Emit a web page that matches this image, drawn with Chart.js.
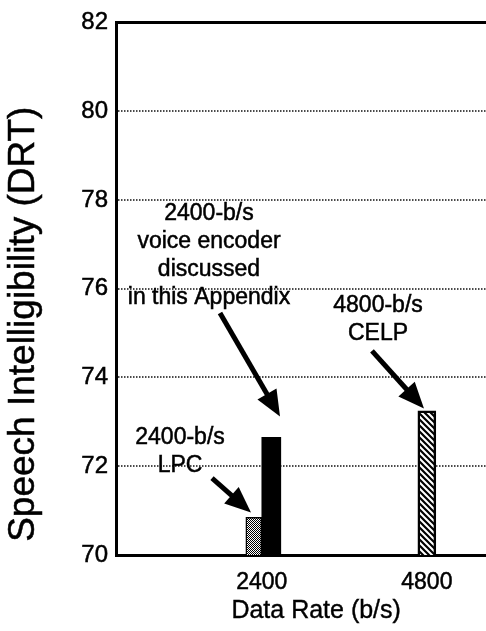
<!DOCTYPE html>
<html>
<head>
<meta charset="utf-8">
<script src="https://cdn.jsdelivr.net/npm/chart.js@4.4.1/dist/chart.umd.min.js"></script>
<style>
  html, body { margin: 0; padding: 0; background: #fff; }
  canvas { display: block; }
</style>
</head>
<body>
<canvas id="chart" width="486" height="631"></canvas>
<script>
// Coders compared, their data rate (b/s) and DRT intelligibility score
const coderNames = ['2400-b/s LPC', '2400-b/s voice encoder', '4800-b/s CELP'];
const coderRates = [2400, 2400, 4800];
const drtScores = [70.85, 72.65, 73.25];

// Axis ticks
const rateTicks = [2400, 4800];
const drtTicks = [70, 72, 74, 76, 78, 80, 82];

const FONT = '"Liberation Sans", Arial, Helvetica, sans-serif';
const X_MIN = 280, X_MAX = 5660;

// Fill patterns for the bars
function stipplePattern() {
  const c = document.createElement('canvas');
  c.width = 2; c.height = 2;
  const g = c.getContext('2d');
  g.fillStyle = '#fff'; g.fillRect(0, 0, 2, 2);
  g.fillStyle = '#000'; g.fillRect(0, 0, 1, 1); g.fillRect(1, 1, 1, 1);
  return g.createPattern(c, 'repeat');
}
function hatchPattern() {
  const s = 6;
  const c = document.createElement('canvas');
  c.width = s; c.height = s;
  const g = c.getContext('2d');
  g.fillStyle = '#fff'; g.fillRect(0, 0, s, s);
  g.strokeStyle = '#000'; g.lineWidth = 2.2;
  g.beginPath();
  g.moveTo(-1, -1); g.lineTo(s + 1, s + 1);
  g.moveTo(-1, s - 1); g.lineTo(1, s + 1);
  g.moveTo(s - 1, -1); g.lineTo(s + 1, 1);
  g.stroke();
  return g.createPattern(c, 'repeat');
}

const barStyles = [
  { backgroundColor: stipplePattern(), borderColor: '#000', borderWidth: 1.5, barThickness: 16 },
  { backgroundColor: '#000', borderColor: '#000', borderWidth: 0, barThickness: 19 },
  { backgroundColor: hatchPattern(), borderColor: '#000', borderWidth: 2.5, barThickness: 18 }
];

const datasets = coderNames.map((name, i) => Object.assign({
  label: name,
  data: [{ x: coderRates[i], y: drtScores[i] }],
  skipNull: true,
  borderSkipped: 'start'
}, barStyles[i]));

// Callout labels and arrows, placed in data units
const callouts = [
  { lines: ['2400-b/s', 'voice encoder', 'discussed', 'in this Appendix'],
    at: [1632, 77.69], from: [1792, 75.45], to: [2665, 73.12] },
  { lines: ['2400-b/s', 'LPC'],
    at: [1211, 72.65], from: [1676, 71.73], to: [2243, 70.96] },
  { lines: ['4800-b/s', 'CELP'],
    at: [4090, 75.61], from: [4002, 74.60], to: [4758, 73.30] }
];

function drawArrow(ctx, x0, y0, x1, y1) {
  const ang = Math.atan2(y1 - y0, x1 - x0);
  const cos = Math.cos(ang), sin = Math.sin(ang);
  const headLen = 26, headHalf = 11;
  const bx = x1 - headLen * cos, by = y1 - headLen * sin;
  ctx.lineWidth = 5;
  ctx.lineCap = 'butt';
  ctx.beginPath();
  ctx.moveTo(x0, y0);
  ctx.lineTo(bx + 2 * cos, by + 2 * sin);
  ctx.stroke();
  ctx.beginPath();
  ctx.moveTo(x1, y1);
  ctx.lineTo(bx + headHalf * sin, by - headHalf * cos);
  ctx.lineTo(bx - headHalf * sin, by + headHalf * cos);
  ctx.closePath();
  ctx.fill();
}

function heavyText(ctx, t, x, y) {
  ctx.fillText(t, x, y);
  ctx.strokeText(t, x, y);
}

const calloutPlugin = {
  id: 'callouts',
  afterDatasetsDraw(chart) {
    const { ctx, scales: { x, y } } = chart;
    ctx.save();
    ctx.fillStyle = '#000';
    ctx.strokeStyle = '#000';
    ctx.font = '23px ' + FONT;
    ctx.textAlign = 'center';
    ctx.textBaseline = 'middle';
    const lineH = 28;
    callouts.forEach(c => {
      const cx = x.getPixelForValue(c.at[0]);
      const cy = y.getPixelForValue(c.at[1]);
      ctx.lineWidth = 0.5;
      c.lines.forEach((t, i) => heavyText(ctx, t, cx, cy + i * lineH));
      drawArrow(ctx,
        x.getPixelForValue(c.from[0]), y.getPixelForValue(c.from[1]),
        x.getPixelForValue(c.to[0]), y.getPixelForValue(c.to[1]));
    });
    ctx.restore();
  }
};

// Axis titles; the plot runs on past the right edge, so the rate title
// sits right of the visible middle and the score title a little low
const axisTitlePlugin = {
  id: 'axisTitles',
  afterDraw(chart) {
    const { ctx, scales: { x, y } } = chart;
    ctx.save();
    ctx.fillStyle = '#000';
    ctx.strokeStyle = '#000';
    ctx.lineWidth = 0.4;
    ctx.textAlign = 'center';
    ctx.textBaseline = 'middle';

    ctx.font = '25px ' + FONT;
    heavyText(ctx, 'Data Rate (b/s)', x.getPixelForValue(3190), x.bottom - 20);

    ctx.translate(24, y.getPixelForValue(75.2));
    ctx.rotate(-Math.PI / 2);
    ctx.font = '37px ' + FONT;
    ctx.lineWidth = 0.5;
    heavyText(ctx, 'Speech Intelligibility (DRT)', 0, 0);
    ctx.restore();
  }
};

new Chart(document.getElementById('chart'), {
  type: 'bar',
  data: { datasets },
  plugins: [calloutPlugin, axisTitlePlugin],
  options: {
    responsive: false,
    devicePixelRatio: 1,
    animation: false,
    layout: { padding: { top: 20, right: 0, left: 0, bottom: 0 } },
    plugins: { legend: { display: false }, tooltip: { enabled: false } },
    scales: {
      x: {
        type: 'linear',
        min: X_MIN, max: X_MAX,
        offset: false,
        grid: { display: false, drawTicks: false, offset: false },
        border: { display: true, color: '#000', width: 3 },
        afterBuildTicks: s => { s.ticks = rateTicks.map(v => ({ value: v })); },
        ticks: { color: '#000', font: { family: FONT, size: 23 }, padding: 14,
                 textStrokeColor: '#000', textStrokeWidth: 0.5,
                 maxRotation: 0, callback: v => String(v) },
        afterFit: s => { s.height = 76; }
      },
      xTop: {
        type: 'linear', position: 'top',
        min: X_MIN, max: X_MAX,
        grid: { display: false, drawTicks: false },
        ticks: { display: false },
        border: { display: true, color: '#000', width: 3 },
        afterFit: s => { s.height = 0; }
      },
      y: {
        min: 70, max: 82,
        afterBuildTicks: s => { s.ticks = drtTicks.map(v => ({ value: v })); },
        grid: {
          drawTicks: false,
          lineWidth: 2,
          color: c => (c.tick && (c.tick.value === 70 || c.tick.value === 82)) ? 'rgba(0,0,0,0)' : '#4a4a4a'
        },
        // dotted grid lines, solid axis line
        border: { display: true, color: '#000', width: 3, dash: [1.5, 1.5] },
        ticks: { color: '#000', font: { family: FONT, size: 24 }, padding: 8,
                 textStrokeColor: '#000', textStrokeWidth: 0.5 },
        afterFit: s => { s.width = 116; }
      }
    }
  }
});
</script>
</body>
</html>
